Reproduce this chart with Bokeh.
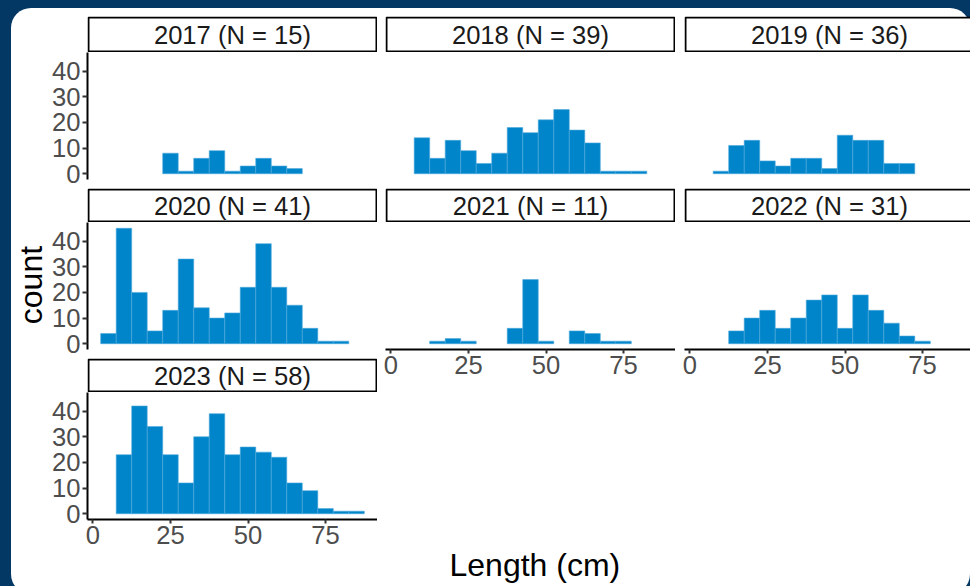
from bokeh.plotting import figure
from bokeh.layouts import row, column
from bokeh.models import Range1d, FixedTicker, ColumnDataSource
from bokeh.embed import file_html
from bokeh.resources import INLINE
from bokeh.core.properties import value

# ---------------- data ----------------
years = ["2017", "2018", "2019", "2020", "2021", "2022", "2023"]
n_sets = [15, 39, 36, 41, 11, 31, 58]
bin_width = 5
# left edge of the first bin for each year
first_bin = [22.5, 7.5, 7.5, 2.5, 12.5, 12.5, 7.5]
counts_2017 = [8, 1, 6, 9, 1, 3, 6, 3, 2]
counts_2018 = [14, 6, 13, 9, 4, 8, 18, 16, 21, 25, 17, 12, 1, 1, 1]
counts_2019 = [1, 11, 13, 5, 3, 6, 6, 2, 15, 13, 13, 4, 4]
counts_2020 = [4, 45, 20, 5, 13, 33, 14, 10, 12, 22, 39, 22, 15, 6, 1, 1]
counts_2021 = [1, 2, 1, 0, 0, 6, 25, 1, 0, 5, 4, 1, 1]
counts_2022 = [5, 10, 13, 6, 10, 17, 19, 6, 19, 13, 8, 3, 1]
counts_2023 = [23, 42, 34, 23, 12, 30, 39, 23, 26, 24, 22, 12, 9, 2, 1, 1]
all_counts = [counts_2017, counts_2018, counts_2019, counts_2020,
              counts_2021, counts_2022, counts_2023]
x_ticks = [0, 25, 50, 75]
y_ticks = [0, 10, 20, 30, 40]
x_title = "Length (cm)"
y_title = "count"

# ---------------- style / layout ----------------
DARK = "#033764"
BAR = "#0085CA"
BAR_EDGE = "#4fa9dc"
FONT = "Liberation Sans"
FRAME_W = 290
FRAME_H = 127
STRIP_H = 36          # first-row strip
STRIP_H2 = 34         # later strips (part of the gap goes to the panel above)
GAP = 9

# data ranges with ggplot 5% expansion
lo = min(first_bin)
hi = max(fb + bin_width * len(c) for fb, c in zip(first_bin, all_counts))
X0 = lo - 0.05 * (hi - lo)
X1 = hi + 0.05 * (hi - lo)
ymax = max(max(c) for c in all_counts)
Y0 = -0.05 * ymax
Y1 = ymax * 1.05


def style_fig(p):
    p.grid.visible = False
    p.outline_line_color = None
    p.background_fill_color = None
    p.border_fill_color = None
    p.background_fill_alpha = 0
    p.border_fill_alpha = 0


def style_axis(ax, ticks):
    ax.ticker = FixedTicker(ticks=ticks)
    ax.axis_line_color = "black"
    ax.axis_line_width = 2
    ax.major_tick_line_color = "#333333"
    ax.major_tick_line_width = 2
    ax.major_tick_out = 5
    ax.major_tick_in = 0
    ax.minor_tick_line_color = None
    ax.major_label_text_font = FONT
    ax.major_label_text_font_size = "25.6px"
    ax.major_label_text_color = "#4d4d4d"
    ax.major_label_standoff = 2


def strip_fig(label, left_border, vis_w, top_border=0, h=STRIP_H):
    p = figure(width=left_border + vis_w, height=h + top_border,
               x_range=Range1d(0, vis_w), y_range=Range1d(0, h),
               min_border=0, min_border_left=left_border, min_border_right=0,
               min_border_top=top_border, min_border_bottom=0,
               x_axis_location=None, y_axis_location=None,
               output_backend="svg", toolbar_location=None, tools="")
    style_fig(p)
    p.quad(left=[1], right=[FRAME_W - 1], bottom=[1], top=[h - 1],
           fill_color="white", line_color="black", line_width=2)
    p.text(x=[FRAME_W / 2], y=[h / 2], text=[label],
           text_align="center", text_baseline="middle",
           text_font=value(FONT), text_font_size="25.6px", text_color="#1a1a1a")
    return p


def panel_fig(idx, left_border, vis_w, show_y, show_x, bottom_border):
    x_end = X0 + (X1 - X0) * vis_w / FRAME_W
    p = figure(width=left_border + vis_w, height=FRAME_H + bottom_border,
               x_range=Range1d(X0, x_end), y_range=Range1d(Y0, Y1),
               min_border=0, min_border_left=left_border, min_border_right=0,
               min_border_top=0, min_border_bottom=bottom_border,
               x_axis_location="below" if show_x else None,
               y_axis_location="left" if show_y else None,
               output_backend="svg", toolbar_location=None, tools="")
    style_fig(p)
    counts = all_counts[idx]
    start = first_bin[idx]
    lefts = [start + bin_width * i for i in range(len(counts))]
    keep = [i for i, c in enumerate(counts) if c > 0]
    src = ColumnDataSource(dict(
        left=[lefts[i] for i in keep],
        right=[lefts[i] + bin_width for i in keep],
        top=[counts[i] for i in keep],
        bottom=[0] * len(keep)))
    p.quad(left="left", right="right", top="top", bottom="bottom", source=src,
           fill_color=BAR, line_color=BAR_EDGE, line_width=0.6)
    if show_y:
        style_axis(p.yaxis[0], y_ticks)
    if show_x:
        style_axis(p.xaxis[0], x_ticks)
        p.xaxis[0].major_tick_out = 4
    return p


def label(i):
    return f"{years[i]} (N = {n_sets[i]})"


# column geometry (inside the white panel)
COUNT_W = 38                  # y-title strip
L1, W1 = 38, FRAME_W          # column 1 (room for the y axis)
L2, W2 = 8, FRAME_W           # column 2
L3 = 9                        # column 3 (cut by window edge)
INNER_LEFT, INNER_TOP = 11, 8
TOP = 8
W3 = 970 - INNER_LEFT - COUNT_W - (L1 + W1) - (L2 + W2) - L3
INNER_H = 588

col1 = column(
    strip_fig(label(0), L1, W1, top_border=TOP),
    panel_fig(0, L1, W1, True, False, GAP),
    strip_fig(label(3), L1, W1, h=STRIP_H2),
    panel_fig(3, L1, W1, True, False, GAP),
    strip_fig(label(6), L1, W1, h=STRIP_H2),
    panel_fig(6, L1, W1, True, True,
              INNER_H - (TOP + STRIP_H + 2 * STRIP_H2 + 3 * FRAME_H + 2 * GAP)),
)

P2_BOTTOM = 40
col2_label_h = INNER_H - (TOP + STRIP_H + STRIP_H2 + 2 * FRAME_H + GAP + P2_BOTTOM)
xlab = figure(width=L2 + W2, height=col2_label_h,
              x_range=Range1d(0, L2 + W2), y_range=Range1d(col2_label_h, 0),
              min_border=0, x_axis_location=None, y_axis_location=None,
              output_backend="svg", toolbar_location=None, tools="")
style_fig(xlab)
# centre of all panels, relative to column 2
x_center = ((COUNT_W + L1) + (COUNT_W + L1 + W1 + L2 + W2 + L3 + FRAME_W)) / 2 - (COUNT_W + L1 + W1)
xlab.text(x=[x_center], y=[col2_label_h - 32], text=[x_title],
          text_align="center", text_baseline="middle",
          text_font=value(FONT), text_font_size="32px", text_color="black")

col2 = column(
    strip_fig(label(1), L2, W2, top_border=TOP),
    panel_fig(1, L2, W2, False, False, GAP),
    strip_fig(label(4), L2, W2, h=STRIP_H2),
    panel_fig(4, L2, W2, False, True, P2_BOTTOM),
    xlab,
)

col3 = column(
    strip_fig(label(2), L3, W3, top_border=TOP),
    panel_fig(2, L3, W3, False, False, GAP),
    strip_fig(label(5), L3, W3, h=STRIP_H2),
    panel_fig(5, L3, W3, False, True, P2_BOTTOM),
)

ylab = figure(width=COUNT_W, height=INNER_H,
              x_range=Range1d(0, COUNT_W), y_range=Range1d(0, INNER_H),
              min_border=0, x_axis_location=None, y_axis_location=None,
              output_backend="svg", toolbar_location=None, tools="")
style_fig(ylab)
# centred on the middle row's panel
y_center = INNER_H - (TOP + STRIP_H + FRAME_H + GAP + STRIP_H2 + FRAME_H / 2)
ylab.text(x=[COUNT_W / 2], y=[y_center], text=[y_title], angle=1.5707963,
          text_align="center", text_baseline="middle",
          text_font=value(FONT), text_font_size="32px", text_color="black")

inner = row(ylab, col1, col2, col3, margin=(INNER_TOP, 0, 0, INNER_LEFT),
            styles={"background-color": "white", "border-radius": "20px"})
outer = column(inner, width=970, height=586,
               styles={"background-color": DARK, "overflow": "hidden"})

open("out.html", "w").write(file_html(outer, INLINE))
